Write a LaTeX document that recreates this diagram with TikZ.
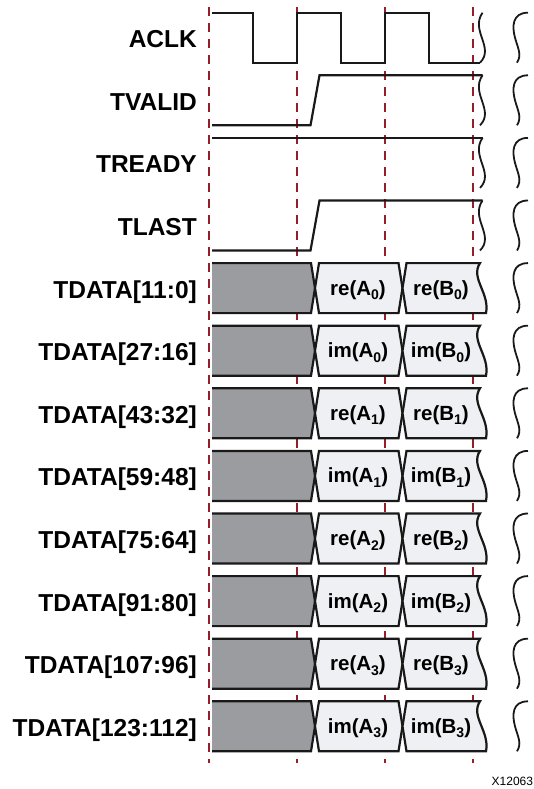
\documentclass[tikz,border=0pt]{standalone}
\usepackage{fontspec}
\setmainfont{Liberation Sans}
\usetikzlibrary{positioning}
\definecolor{guide}{RGB}{150,30,40}
\definecolor{busgray}{RGB}{155,156,160}
\definecolor{cellfill}{RGB}{239,240,243}
\newcommand{\busidx}[1]{{\fontsize{14}{14}\selectfont\raisebox{-4.5pt}{#1}}}
\tikzset{
  sig/.style={line width=2.2pt, black!90},
  brk/.style={line width=1.8pt, black!90},
  clkedge/.style={line width=1.5pt, guide, dash pattern=on 9pt off 7pt},
  lbl/.style={anchor=base east, inner sep=0pt, font=\fontsize{24.5}{28}\selectfont\bfseries},
  cell/.style={anchor=base, inner sep=0pt, font=\fontsize{20.5}{24}\selectfont\bfseries}
}

\begin{document}
\begin{tikzpicture}[x=1pt, y=-1pt]
\useasboundingbox (0,0) rectangle (534,789);
% clock edge guides
\foreach \x in {209,297,385,473}
  \draw[clkedge] (\x,7) -- (\x,763);
% control signal names
\foreach \name [count=\i from 0] in {ACLK,TVALID,TREADY,TLAST} {
  \pgfmathsetmacro\yt{12.7+62.6*\i}
  \node[lbl] (ctl\i) at (197,\yt+35) {\name};
  \draw[brk] (482.5,\yt) .. controls (470,\yt+18) and (495,\yt+35) .. (480,\yt+50);
}
% ACLK
\draw[sig] (212,12.7) -| (253.3,62.7) -| (297.3,12.7) -| (341.2,62.7) -| (385.1,12.7) -| (429,62.7) -- (480,62.7);
% TVALID
\draw[sig] (212,125.3) -- (310.5,125.3) -- (319.5,75.3) -- (482.5,75.3);
% TREADY
\draw[sig] (212,137.9) -- (482.5,137.9);
% TLAST
\draw[sig] (212,250.5) -- (310.5,250.5) -- (319.5,200.5) -- (482.5,200.5);
% data buses
\foreach \rng/\pt/\ix [count=\i from 0] in {11:0/re/0, 27:16/im/0, 43:32/re/1, 59:48/im/1,
    75:64/re/2, 91:80/im/2, 107:96/re/3, 123:112/im/3} {
  \pgfmathsetmacro\yt{263.1+62.6*\i}
  \pgfmathsetmacro\ym{\yt+25}
  \pgfmathsetmacro\yb{\yt+50}
  \node[lbl] (dat\i) at (197,\yt+35) {TDATA[\rng]};
  % idle part
  \fill[busgray] (212,\yt) -- (311,\yt) -- (315,\ym) -- (311,\yb) -- (212,\yb) -- cycle;
  \draw[sig] (212,\yt) -- (311,\yt) -- (315,\ym) -- (311,\yb) -- (212,\yb);
  % beats
  \draw[sig, fill=cellfill] (315,\ym) -- (319,\yt) -- (398.5,\yt) -- (402.5,\ym) -- (398.5,\yb) -- (319,\yb) -- cycle;
  \draw[sig, fill=cellfill] (402.5,\ym) -- (406.5,\yt) -- (480,\yt)
    .. controls (470,\yt+15) and (490,\yt+30) .. (486,\yb) -- (406.5,\yb) -- cycle;
  \node[cell] (a\i) at (358,\ym+7) {\pt(A\busidx{\ix})};
  \node[cell] (b\i) at (441,\ym+7) {\pt(B\busidx{\ix})};
}
% far breaks
\foreach \i in {0,...,11} {
  \pgfmathsetmacro\yt{12.7+62.6*\i}
  \draw[brk] (528,\yt) .. controls (512,\yt) and (512,\yt+14) .. (515,\yt+25)
    .. controls (518,\yt+36) and (522,\yt+42) .. (517,\yt+50);
}
\node[anchor=west, inner sep=0pt, font=\fontsize{12}{14}\selectfont] (fig) at (491.5,781.5) {X12063};
\end{tikzpicture}
\end{document}
